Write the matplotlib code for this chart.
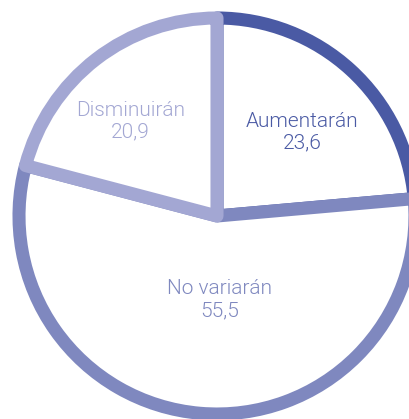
import matplotlib
matplotlib.use("Agg")
import matplotlib.pyplot as plt

categories = ["Aumentarán", "No variarán", "Disminuirán"]
values = [23.6, 55.5, 20.9]
value_labels = ["23,6", "55,5", "20,9"]
colors = ["#4a5aa4", "#7f88bf", "#a3a7d3"]

W, H = 409, 419
fig = plt.figure(figsize=(W / 100, H / 100), dpi=100)
ax = fig.add_axes([0, 0, 1, 1])

cx, cy, r = 217, H - 216, 198
wedges, _ = ax.pie(values, startangle=90, counterclock=False,
                   center=(cx, cy), radius=r, frame=True,
                   wedgeprops=dict(facecolor="white", linewidth=9.4,
                                   joinstyle="round"))
for w, c in zip(wedges, colors):
    w.set_edgecolor(c)

label_pos = [(302, H - 132), (219.5, H - 300), (130.5, H - 121)]
for (x, y), cat, val, c in zip(label_pos, categories, value_labels, colors):
    ax.text(x, y, f"{cat}\n{val}", ha="center", va="center", color=c,
            fontsize=15, family="Roboto", fontweight=300, linespacing=1.2)

ax.set_xlim(0, W)
ax.set_ylim(0, H)
ax.set_aspect("equal")
ax.axis("off")
fig.savefig("out.png", dpi=100, facecolor="white")
